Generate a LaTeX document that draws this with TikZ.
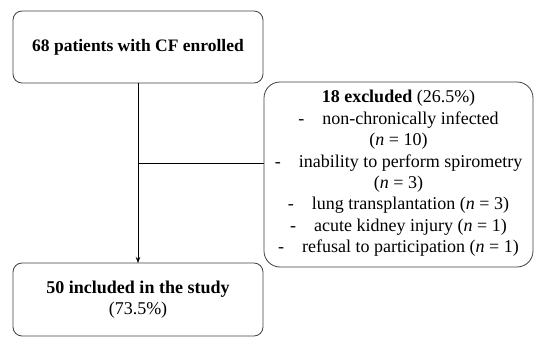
\documentclass[tikz,border=0pt]{standalone}
\usepackage{fontspec}
\setmainfont{Liberation Serif}
\usetikzlibrary{arrows.meta}
\begin{document}
\begin{tikzpicture}[x=1pt,y=-1pt,
  box/.style={draw=black!75, line width=0.8pt, rounded corners=9pt},
  txt/.style={font=\fontsize{18}{21.4}\selectfont, align=center, inner sep=0pt},
  conn/.style={draw=black, line width=0.6pt}]
\useasboundingbox (0,0) rectangle (550,353);
\draw[box] (13,11) rectangle (263,83);
\node[txt, font=\fontsize{17.5}{21.4}\selectfont] (top) at (138,47) {\textbf{68 patients with CF enrolled}};
\coordinate (topb) at (138,83);
\draw[box] (13,263) rectangle (263,336);
\node[txt] (bot) at (138,299.5) {\textbf{50 included in the study}\\(73.5\%)};
\coordinate (bott) at (138,263);
\draw[box, rounded corners=16pt] (264,82) rectangle (533,267);
\node[txt] (exc) at (398.5,173.5) {\textbf{18 excluded} (26.5\%)\\
-\quad non-chronically infected\\(\textit{n} = 10)\\
-\quad inability to perform spirometry\\(\textit{n} = 3)\\
-\quad lung transplantation (\textit{n} = 3)\\
-\quad acute kidney injury (\textit{n} = 1)\\
-\quad refusal to participation (\textit{n} = 1)};
\coordinate (mid) at (138,163);
\coordinate (excl) at (264,163);
\draw[conn, -{Stealth[length=6pt,width=4.5pt]}] (topb) -- (bott);
\draw[conn] (mid) -- (excl);
\end{tikzpicture}
\end{document}
